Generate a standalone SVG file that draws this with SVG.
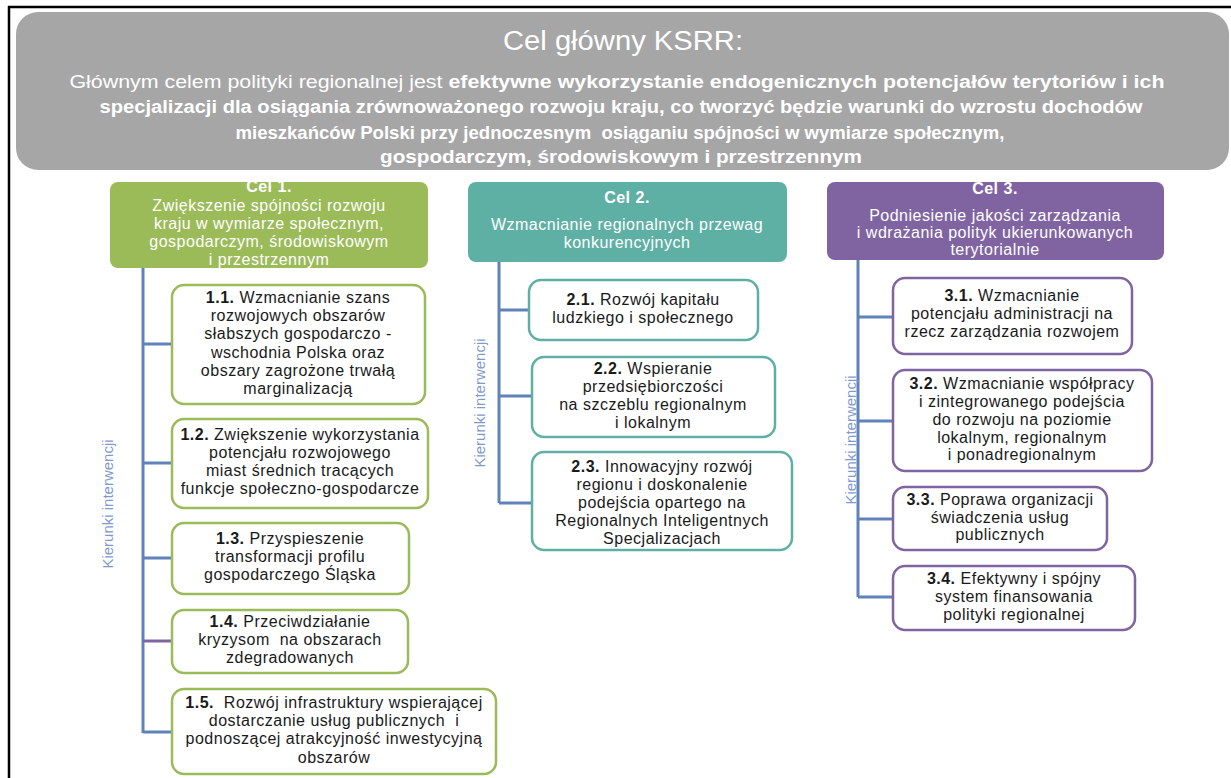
<svg xmlns="http://www.w3.org/2000/svg" width="1231" height="778" viewBox="0 0 1231 778">
<style>
  text { font-family: "Liberation Sans", Arial, sans-serif; }
  .hdr { fill: #ffffff; font-size: 16px; text-anchor: middle; letter-spacing: 0.5px; }
  .hb { font-weight: bold; }
  .bx { fill: #1a1a1a; font-size: 16px; text-anchor: middle; letter-spacing: 0.5px; }
  .pre { white-space: pre; }
  .g { fill: #ffffff; stroke: #9bbb59; stroke-width: 2.5; }
  .t { fill: #ffffff; stroke: #5fb0a4; stroke-width: 2.5; }
  .p { fill: #ffffff; stroke: #8064a2; stroke-width: 2.5; }
  .ln { stroke: #5f82b8; stroke-width: 3; fill: none; }
  .kier { fill: #7f9bcc; font-size: 15px; text-anchor: middle; }
  .main { fill: #ffffff; font-size: 18px; text-anchor: middle; }
</style>
<rect width="1231" height="778" fill="#ffffff"/>
<line x1="8" y1="7" x2="1231" y2="7" stroke="#000" stroke-width="2.5"/>
<line x1="9" y1="6" x2="9" y2="778" stroke="#000" stroke-width="2.5"/>

<g id="main-goal">
  <rect x="16" y="12" width="1213" height="158" rx="22" fill="#a6a6a6"/>
  <text x="623" y="50" fill="#ffffff" font-size="27" text-anchor="middle" textLength="240" lengthAdjust="spacingAndGlyphs">Cel główny KSRR:</text>
  <text class="main" x="617" y="88" textLength="1095" lengthAdjust="spacingAndGlyphs">Głównym celem polityki regionalnej jest <tspan class="hb">efektywne wykorzystanie endogenicznych potencjałów terytoriów i ich</tspan></text>
  <text class="main hb" x="621" y="113" textLength="1043" lengthAdjust="spacingAndGlyphs">specjalizacji dla osiągania zrównoważonego rozwoju kraju, co tworzyć będzie warunki do wzrostu dochodów</text>
  <text class="main hb pre" x="620" y="139" textLength="769" lengthAdjust="spacingAndGlyphs">mieszkańców Polski przy jednoczesnym  osiąganiu spójności w wymiarze społecznym,</text>
  <text class="main hb" x="621" y="163" textLength="482" lengthAdjust="spacingAndGlyphs">gospodarczym, środowiskowym i przestrzennym</text>
</g>

<g id="connectors">
  <path class="ln" d="M143 268 V733 M143 344 H172 M143 463 H172 M143 558 H172 M143 732 H172"/>
  <line x1="143" y1="641" x2="172" y2="641" stroke="#8064a2" stroke-width="3"/>
  <path class="ln" d="M499 262 V503 M499 310 H529 M499 396 H532 M499 503 H532"/>
  <path class="ln" d="M858 260 V597 M858 317 H893 M858 421 H893 M858 519 H893 M858 597 H893"/>
</g>

<g id="labels">
  <text class="kier" transform="translate(113 504) rotate(-90)">Kierunki interwencji</text>
  <text class="kier" transform="translate(485 403) rotate(-90)">Kierunki interwencji</text>
  <text class="kier" transform="translate(856 440) rotate(-90)">Kierunki interwencji</text>
</g>

<g id="cel1">
  <rect x="110" y="182" width="318" height="86" rx="8" fill="#9bbb59"/>
  <text class="hdr hb" x="269" y="192">Cel 1.</text>
  <text class="hdr" x="269" y="211">Zwiększenie spójności rozwoju</text>
  <text class="hdr" x="269" y="229">kraju w wymiarze społecznym,</text>
  <text class="hdr" x="269" y="247">gospodarczym, środowiskowym</text>
  <text class="hdr" x="269" y="265">i przestrzennym</text>
</g>
<g id="cel2">
  <rect x="468" y="182" width="319" height="80" rx="8" fill="#5fb0a4"/>
  <text class="hdr hb" x="627" y="203">Cel 2.</text>
  <text class="hdr" x="627" y="230">Wzmacnianie regionalnych przewag</text>
  <text class="hdr" x="627" y="248">konkurencyjnych</text>
</g>
<g id="cel3">
  <rect x="827" y="182" width="337" height="78" rx="8" fill="#8064a2"/>
  <text class="hdr hb" x="995" y="194">Cel 3.</text>
  <text class="hdr" x="995" y="221">Podniesienie jakości zarządzania</text>
  <text class="hdr" x="995" y="238">i wdrażania polityk ukierunkowanych</text>
  <text class="hdr" x="995" y="255">terytorialnie</text>
</g>

<g id="k1-1">
  <rect class="g" x="172" y="285" width="253" height="119" rx="12"/>
  <text class="bx" x="298" y="303"><tspan class="hb">1.1.</tspan> Wzmacnianie szans</text>
  <text class="bx" x="298" y="321">rozwojowych obszarów</text>
  <text class="bx" x="298" y="339">słabszych gospodarczo -</text>
  <text class="bx" x="298" y="358">wschodnia Polska oraz</text>
  <text class="bx" x="298" y="376">obszary zagrożone trwałą</text>
  <text class="bx" x="298" y="394">marginalizacją</text>
</g>
<g id="k1-2">
  <rect class="g" x="172" y="419" width="256" height="89" rx="12"/>
  <text class="bx" x="300" y="440"><tspan class="hb">1.2.</tspan> Zwiększenie wykorzystania</text>
  <text class="bx" x="300" y="458">potencjału rozwojowego</text>
  <text class="bx" x="300" y="476">miast średnich tracących</text>
  <text class="bx" x="300" y="494">funkcje społeczno-gospodarcze</text>
</g>
<g id="k1-3">
  <rect class="g" x="172" y="523" width="237" height="71" rx="12"/>
  <text class="bx" x="290" y="544"><tspan class="hb">1.3.</tspan> Przyspieszenie</text>
  <text class="bx" x="290" y="562">transformacji profilu</text>
  <text class="bx" x="290" y="580">gospodarczego Śląska</text>
</g>
<g id="k1-4">
  <rect class="g" x="172" y="610" width="236" height="63" rx="12"/>
  <text class="bx" x="290" y="627"><tspan class="hb">1.4.</tspan> Przeciwdziałanie</text>
  <text class="bx pre" x="290" y="645">kryzysom  na obszarach</text>
  <text class="bx" x="290" y="663">zdegradowanych</text>
</g>
<g id="k1-5">
  <rect class="g" x="172" y="689" width="324" height="85" rx="12"/>
  <text class="bx pre" x="334" y="708"><tspan class="hb">1.5.</tspan>  Rozwój infrastruktury wspierającej</text>
  <text class="bx pre" x="334" y="726">dostarczanie usług publicznych  i</text>
  <text class="bx" x="334" y="744">podnoszącej atrakcyjność inwestycyjną</text>
  <text class="bx" x="334" y="763">obszarów</text>
</g>

<g id="k2-1">
  <rect class="t" x="529" y="280" width="229" height="60" rx="12"/>
  <text class="bx" x="643" y="305"><tspan class="hb">2.1.</tspan> Rozwój kapitału</text>
  <text class="bx" x="643" y="323">ludzkiego i społecznego</text>
</g>
<g id="k2-2">
  <rect class="t" x="532" y="357" width="243" height="80" rx="12"/>
  <text class="bx" x="653" y="374"><tspan class="hb">2.2.</tspan> Wspieranie</text>
  <text class="bx" x="653" y="392">przedsiębiorczości</text>
  <text class="bx" x="653" y="410">na szczeblu regionalnym</text>
  <text class="bx" x="653" y="428">i lokalnym</text>
</g>
<g id="k2-3">
  <rect class="t" x="532" y="452" width="260" height="98" rx="12"/>
  <text class="bx" x="662" y="472"><tspan class="hb">2.3.</tspan> Innowacyjny rozwój</text>
  <text class="bx" x="662" y="490">regionu i doskonalenie</text>
  <text class="bx" x="662" y="508">podejścia opartego na</text>
  <text class="bx" x="662" y="526">Regionalnych Inteligentnych</text>
  <text class="bx" x="662" y="544">Specjalizacjach</text>
</g>

<g id="k3-1">
  <rect class="p" x="893" y="278" width="239" height="76" rx="12"/>
  <text class="bx" x="1012" y="301"><tspan class="hb">3.1.</tspan> Wzmacnianie</text>
  <text class="bx" x="1012" y="319">potencjału administracji na</text>
  <text class="bx" x="1012" y="337">rzecz zarządzania rozwojem</text>
</g>
<g id="k3-2">
  <rect class="p" x="893" y="370" width="259" height="101" rx="12"/>
  <text class="bx" x="1022" y="389"><tspan class="hb">3.2.</tspan> Wzmacnianie współpracy</text>
  <text class="bx" x="1022" y="407">i zintegrowanego podejścia</text>
  <text class="bx" x="1022" y="425">do rozwoju na poziomie</text>
  <text class="bx" x="1022" y="443">lokalnym, regionalnym</text>
  <text class="bx" x="1022" y="460">i ponadregionalnym</text>
</g>
<g id="k3-3">
  <rect class="p" x="893" y="487" width="214" height="63" rx="12"/>
  <text class="bx" x="1000" y="505"><tspan class="hb">3.3.</tspan> Poprawa organizacji</text>
  <text class="bx" x="1000" y="523">świadczenia usług</text>
  <text class="bx" x="1000" y="540">publicznych</text>
</g>
<g id="k3-4">
  <rect class="p" x="893" y="566" width="242" height="64" rx="12"/>
  <text class="bx" x="1014" y="584"><tspan class="hb">3.4.</tspan> Efektywny i spójny</text>
  <text class="bx" x="1014" y="602">system finansowania</text>
  <text class="bx" x="1014" y="620">polityki regionalnej</text>
</g>
</svg>
